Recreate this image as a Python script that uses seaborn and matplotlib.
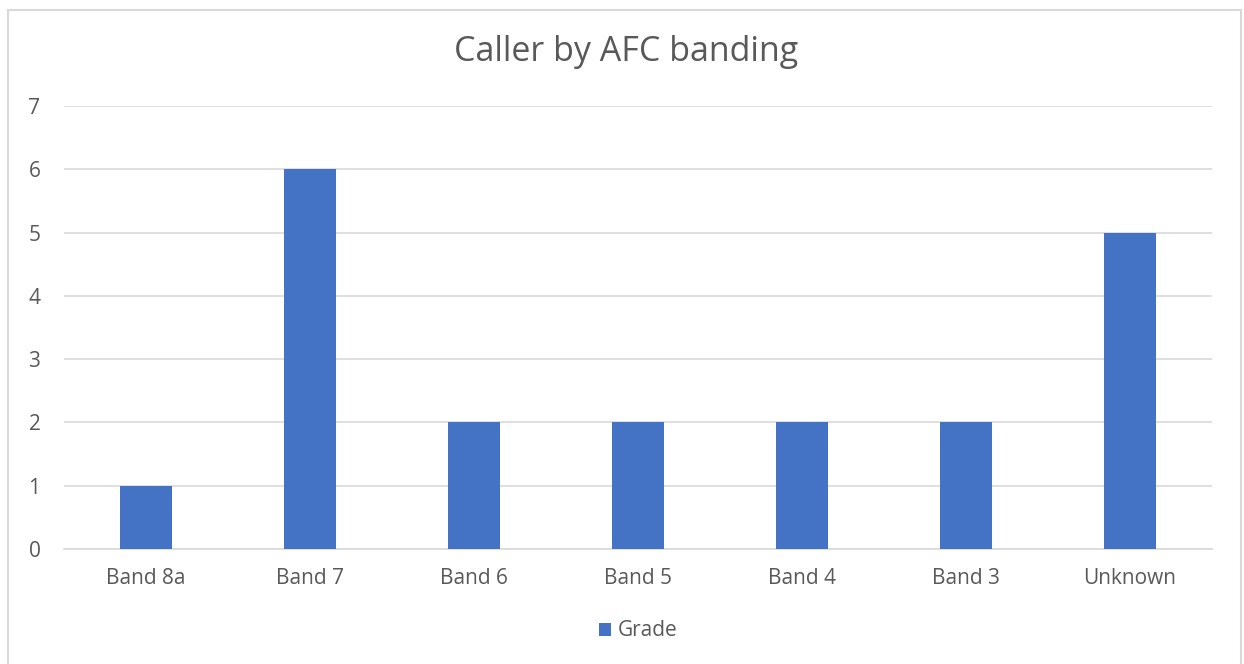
import matplotlib
matplotlib.use("Agg")
import matplotlib.pyplot as plt
import seaborn as sns
import pandas as pd
from matplotlib.patches import Rectangle

# Chart data
bands = ["Band 8a", "Band 7", "Band 6", "Band 5", "Band 4", "Band 3", "Unknown"]
counts = [1, 6, 2, 2, 2, 2, 5]
series_name = "Grade"

df = pd.DataFrame({"Band": bands, "Count": counts, "Series": series_name})

sns.set_style("white")
plt.rcParams["font.family"] = ["Open Sans", "DejaVu Sans"]

text_col = "#595959"
grid_col = "#D9D9D9"
bar_col = "#4472C4"

fig = plt.figure(figsize=(12.44, 6.64), dpi=100)
ax = fig.add_axes([64 / 1244, 1 - 549 / 664, (1212 - 64) / 1244, (549 - 106) / 664])

sns.barplot(data=df, x="Band", y="Count", hue="Series", palette=[bar_col],
            width=0.32, saturation=1, linewidth=0, ax=ax, legend=True, zorder=3)

ax.set_ylim(0, 7)
ax.set_yticks(range(0, 8))
ax.set_xlabel("")
ax.set_ylabel("")
ax.grid(axis="y", color=grid_col, linewidth=1.2, zorder=0)
ax.set_axisbelow(True)
for s in ["top", "right", "left"]:
    ax.spines[s].set_visible(False)
ax.spines["bottom"].set_color(grid_col)
ax.spines["bottom"].set_linewidth(1.2)
ax.tick_params(axis="both", length=0, labelsize=15, colors=text_col)
ax.tick_params(axis="y", pad=17)
ax.tick_params(axis="x", pad=14)

fig.suptitle("Caller by AFC banding", x=0.503, y=1 - 52 / 664, va="center",
             fontsize=24.5, color=text_col)

leg = ax.legend(loc="center", bbox_to_anchor=(0.5, (549 - 631) / (549 - 106)),
                frameon=False, fontsize=15, handlelength=0.6, handleheight=0.6,
                handletextpad=0.3)
for t in leg.get_texts():
    t.set_color(text_col)

# outer chart frame (bottom edge runs off the image)
fig.patches.append(Rectangle((8 / 1244, -0.05), (1241 - 8) / 1244, 1.05 - 10 / 664,
                             transform=fig.transFigure, fill=False,
                             edgecolor="#D9D9D9", linewidth=1.5))

fig.savefig("out.png", dpi=100)
